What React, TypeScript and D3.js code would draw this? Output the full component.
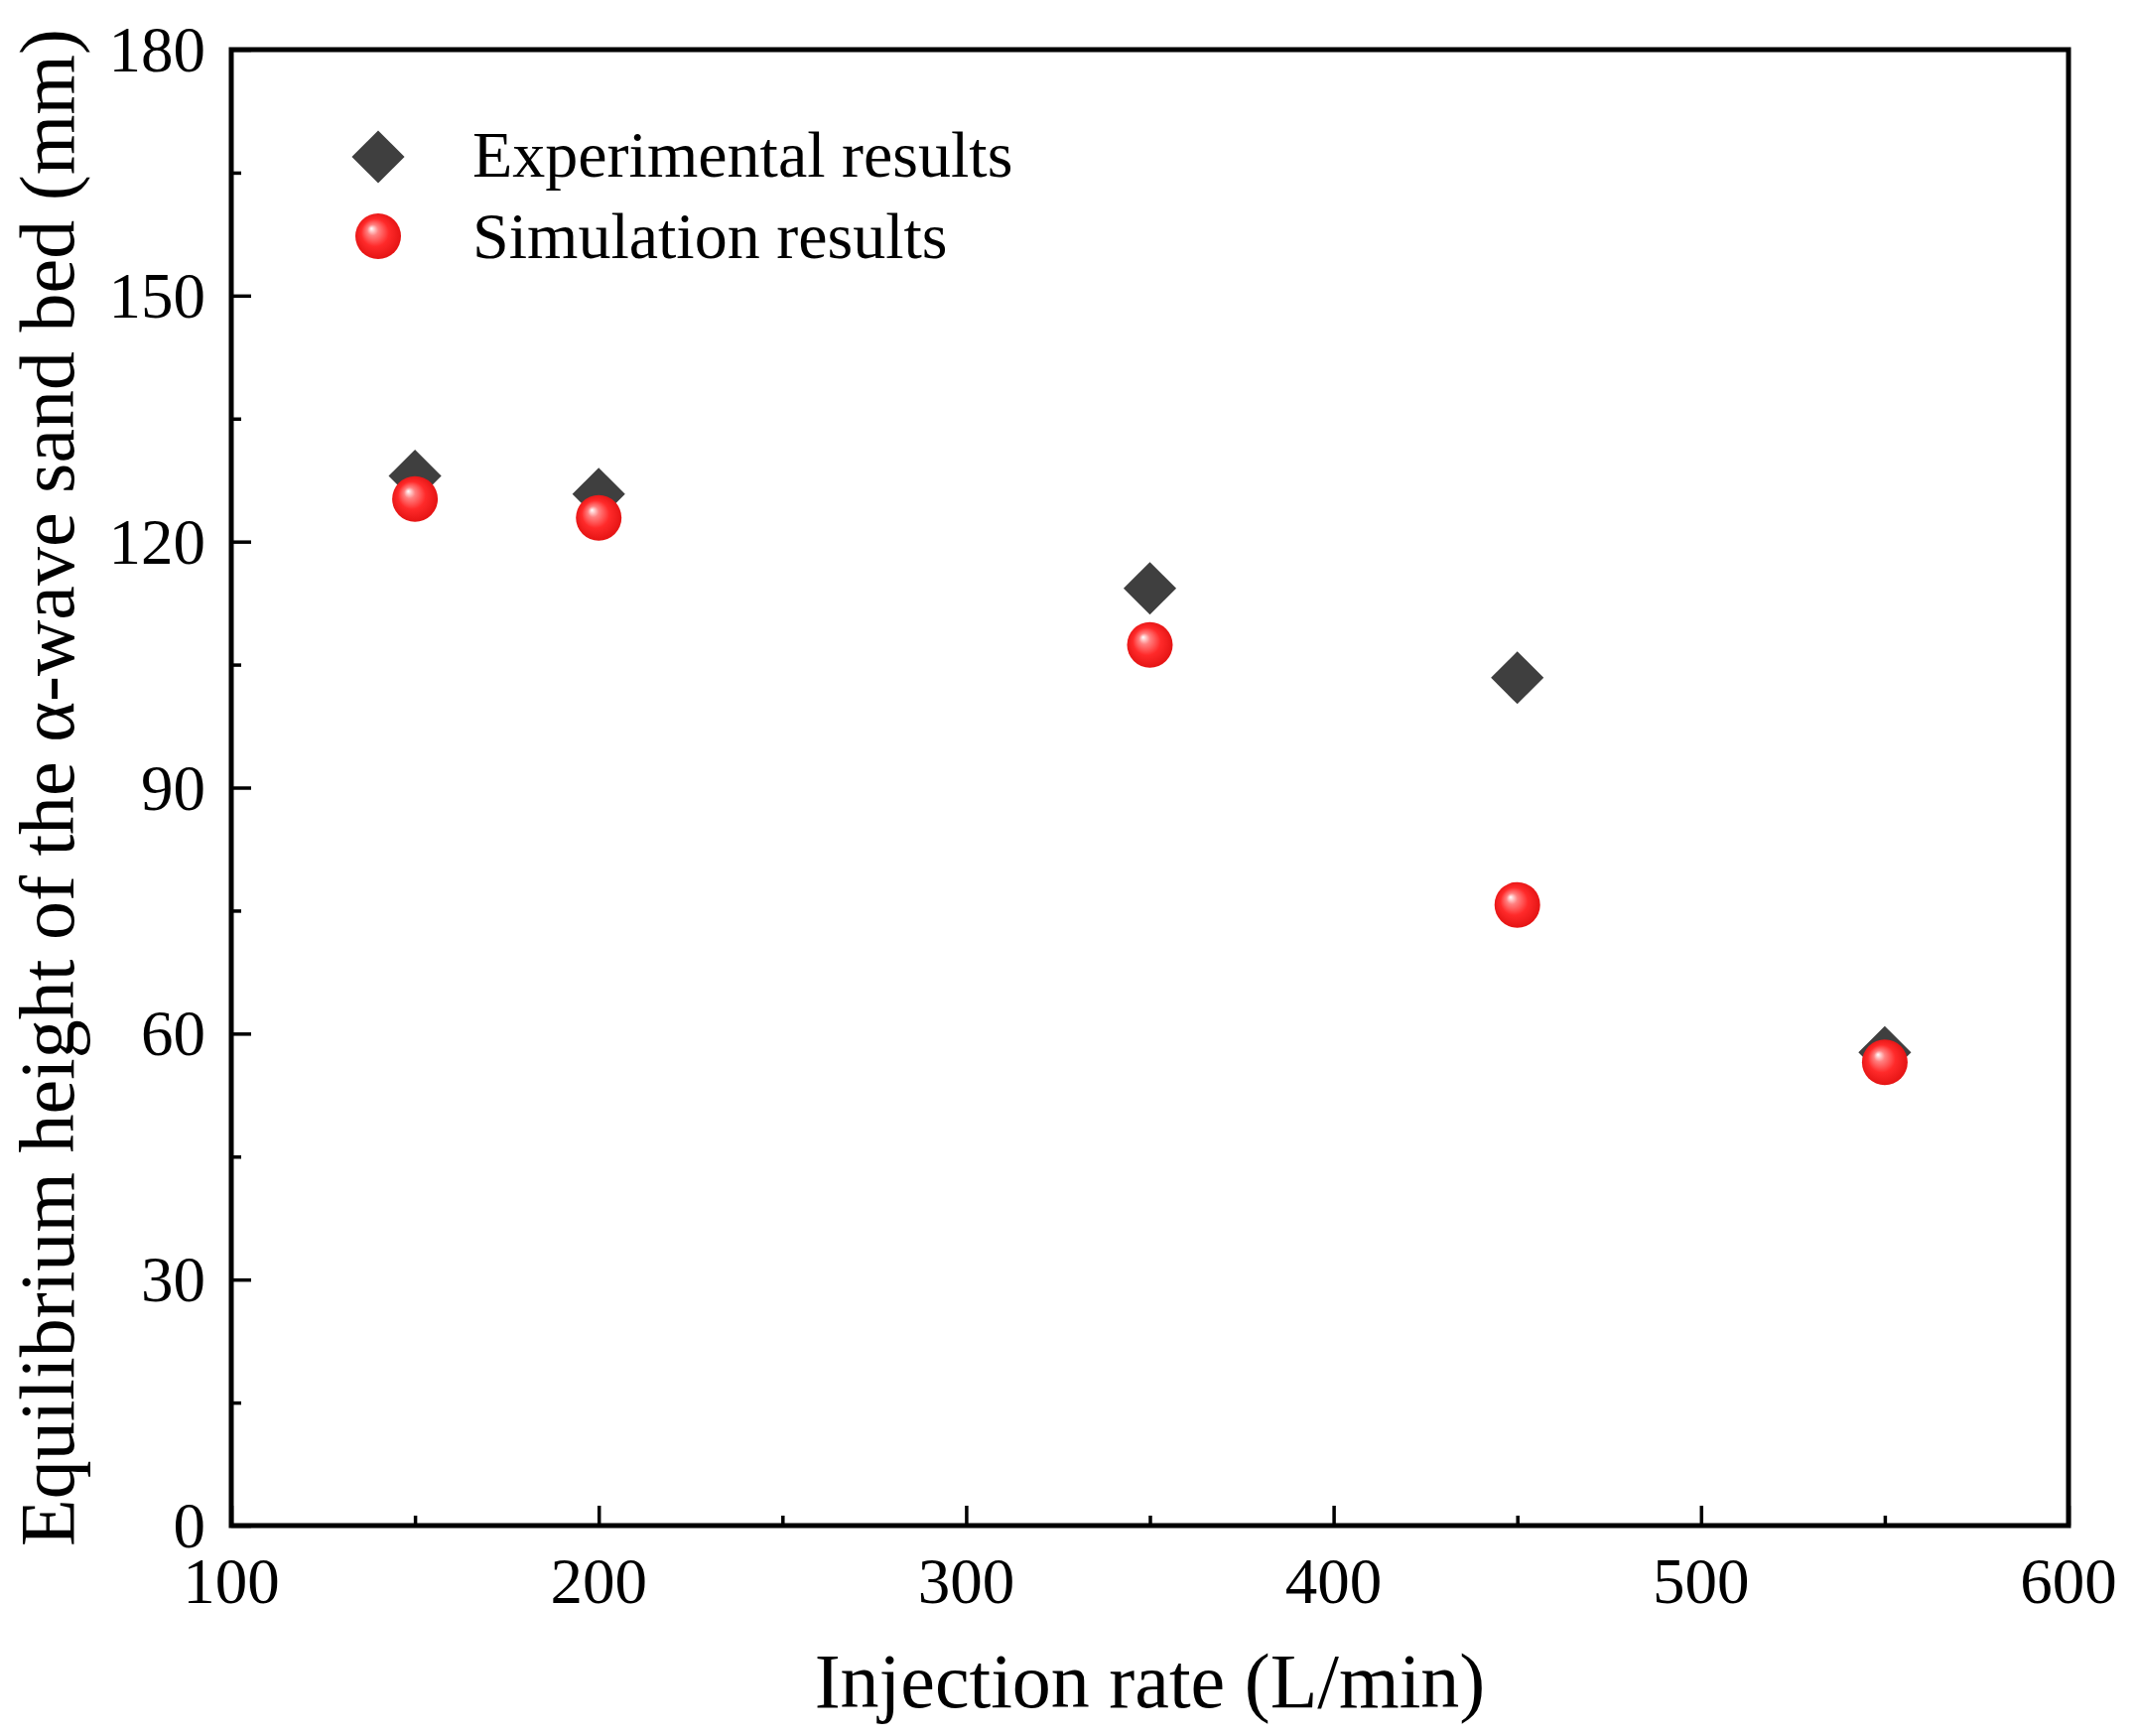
import React, { useRef, useEffect } from 'react';
import * as d3 from 'd3';

// injection rate (L/min)
const rates = [150, 200, 350, 450, 550];
// equilibrium height (mm)
const experimental = [128.0, 125.8, 114.3, 103.4, 57.7];
const simulation = [125.2, 122.9, 107.4, 75.7, 56.5];

const xTicks = [100, 200, 300, 400, 500, 600];
const yTicks = [0, 30, 60, 90, 120, 150, 180];
const legendLabels = ['Experimental results', 'Simulation results'];

const App: React.FC = () => {
  const svgRef = useRef<SVGSVGElement | null>(null);

  useEffect(() => {
    const width = 2152;
    const height = 1749;
    const margin = { top: 50, right: 68, bottom: 212, left: 233 };
    const font = '"Liberation Serif", "Times New Roman", serif';

    const svg = d3.select(svgRef.current);
    svg.selectAll('*').remove();
    svg.attr('width', width).attr('height', height).style('background', '#fff');

    const x = d3.scaleLinear().domain([100, 600]).range([margin.left, width - margin.right]);
    const y = d3.scaleLinear().domain([0, 180]).range([height - margin.bottom, margin.top]);

    // red ball gradient
    const defs = svg.append('defs');
    const grad = defs.append('radialGradient')
      .attr('id', 'ball')
      .attr('cx', '50%').attr('cy', '50%').attr('r', '55%')
      .attr('fx', '35%').attr('fy', '33%');
    grad.append('stop').attr('offset', '0%').attr('stop-color', '#ffffff');
    grad.append('stop').attr('offset', '22%').attr('stop-color', '#ff8080');
    grad.append('stop').attr('offset', '55%').attr('stop-color', '#ff2a2a');
    grad.append('stop').attr('offset', '100%').attr('stop-color', '#e01010');

    // ticks (inward)
    const xMajor = d3.axisBottom(x).tickValues(xTicks).tickSize(-20).tickFormat(() => '');
    const xMinor = d3.axisBottom(x).tickValues([150, 250, 350, 450, 550]).tickSize(-10).tickFormat(() => '');
    const yMajor = d3.axisLeft(y).tickValues(yTicks).tickSize(-20).tickFormat(() => '');
    const yMinor = d3.axisLeft(y).tickValues([15, 45, 75, 105, 135, 165]).tickSize(-10).tickFormat(() => '');

    [xMajor, xMinor].forEach(ax => {
      const g = svg.append('g').attr('transform', `translate(0,${y(0)})`).call(ax);
      g.select('.domain').remove();
      g.selectAll('line').attr('stroke', '#000').attr('stroke-width', 3.5);
    });
    [yMajor, yMinor].forEach(ax => {
      const g = svg.append('g').attr('transform', `translate(${x(100)},0)`).call(ax);
      g.select('.domain').remove();
      g.selectAll('line').attr('stroke', '#000').attr('stroke-width', 3.5);
    });

    // frame
    svg.append('rect')
      .attr('x', x(100)).attr('y', y(180))
      .attr('width', x(600) - x(100)).attr('height', y(0) - y(180))
      .attr('fill', 'none').attr('stroke', '#000').attr('stroke-width', 5);

    // tick labels
    svg.append('g').selectAll('text').data(xTicks).enter().append('text')
      .attr('x', d => x(d)).attr('y', y(0) + 78)
      .attr('text-anchor', 'middle')
      .style('font-family', font).style('font-size', '65px').style('fill', '#000')
      .text(d => d);

    svg.append('g').selectAll('text').data(yTicks).enter().append('text')
      .attr('x', x(100) - 26).attr('y', d => y(d) + 22)
      .attr('text-anchor', 'end')
      .style('font-family', font).style('font-size', '65px').style('fill', '#000')
      .text(d => d);

    // axis titles
    svg.append('text')
      .attr('x', (x(100) + x(600)) / 2).attr('y', y(0) + 183)
      .attr('text-anchor', 'middle')
      .style('font-family', font).style('font-size', '78px').style('fill', '#000')
      .text('Injection rate (L/min)');

    svg.append('text')
      .attr('transform', `translate(74,${(y(0) + y(180)) / 2}) rotate(-90)`)
      .attr('text-anchor', 'middle')
      .style('font-family', font).style('font-size', '78px').style('fill', '#000')
      .text('Equilibrium height of the α-wave sand bed (mm)');

    const diamond = d3.symbol().type(d3.symbolDiamond2).size(2 * 30 * 30);

    // experimental points
    svg.append('g').selectAll('path').data(rates).enter().append('path')
      .attr('d', diamond)
      .attr('transform', (d, i) => `translate(${x(d)},${y(experimental[i])})`)
      .attr('fill', '#3f3f3f');

    // simulation points
    svg.append('g').selectAll('circle').data(rates).enter().append('circle')
      .attr('cx', d => x(d)).attr('cy', (d, i) => y(simulation[i]))
      .attr('r', 23)
      .attr('fill', 'url(#ball)');

    // legend
    const legend = svg.append('g');
    legend.append('path')
      .attr('d', diamond)
      .attr('transform', 'translate(381,158)')
      .attr('fill', '#3f3f3f');
    legend.append('circle')
      .attr('cx', 381).attr('cy', 238).attr('r', 23)
      .attr('fill', 'url(#ball)');
    legend.selectAll('text').data(legendLabels).enter().append('text')
      .attr('x', 476).attr('y', (d, i) => 178 + i * 82)
      .style('font-family', font).style('font-size', '66px').style('fill', '#000')
      .text(d => d);
  }, []);

  return <svg ref={svgRef} style={{ position: 'absolute', left: 0, top: 0 }}></svg>;
};

export default App;
